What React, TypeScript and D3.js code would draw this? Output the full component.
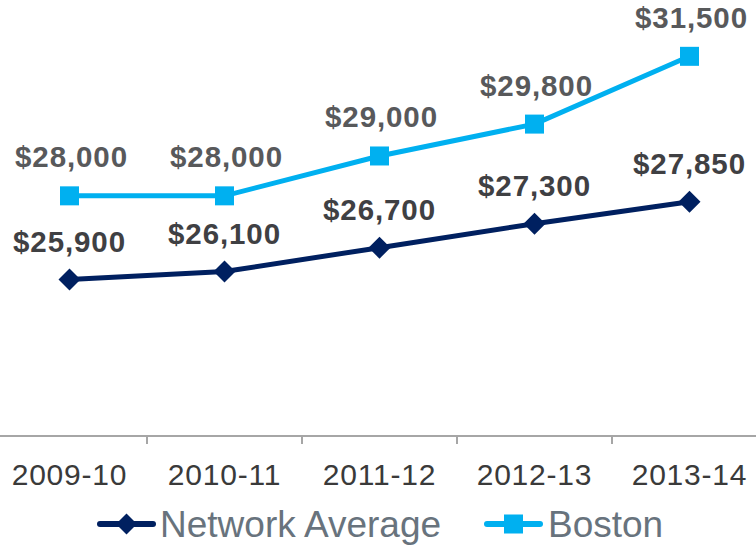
import React from 'react'
import { scaleBand, scaleLinear, line, format } from 'd3'

const categories = ['2009-10', '2010-11', '2011-12', '2012-13', '2013-14']
const networkAverage = [25900, 26100, 26700, 27300, 27850]
const boston = [28000, 28000, 29000, 29800, 31500]
const seriesNames = ['Network Average', 'Boston']

const W = 756
const H = 546
const NAVY = '#002060'
const CYAN = '#00B0F0'

export default function App() {
  const x = scaleBand<string>().domain(categories).range([-8, 767])
  const y = scaleLinear().domain([22000, 32000]).range([435, 36.4])
  const cx = (c: string) => (x(c) as number) + x.bandwidth() / 2
  const money = format('$,')

  const path = line<number>()
    .x((d, i) => cx(categories[i]))
    .y(d => y(d))

  const diamond = (px: number, py: number, r: number) =>
    `M${px},${py - r}L${px + r},${py}L${px},${py + r}L${px - r},${py}Z`

  const labelStyle = {
    fontFamily: '"Liberation Sans", Arial, sans-serif',
    fontSize: 29.5,
    fontWeight: 700,
    letterSpacing: 0.9,
  }

  return (
    <svg width={W} height={H} style={{ position: 'absolute', left: 0, top: 0, display: 'block' }}>
      <rect width={W} height={H} fill="#fff" />

      {/* x axis */}
      <line x1={0} x2={W} y1={436} y2={436} stroke="#A6A6A6" strokeWidth={2} />
      {categories.slice(1).map(c => (
        <line key={c} x1={x(c)} x2={x(c)} y1={436} y2={444} stroke="#A6A6A6" strokeWidth={2} />
      ))}
      {categories.map(c => (
        <text key={c} x={cx(c)} y={485} textAnchor="middle"
          style={{ fontFamily: '"Liberation Sans", Arial, sans-serif', fontSize: 30, letterSpacing: 0.8 }}
          fill="#3A3A3A">{c}</text>
      ))}

      {/* Boston */}
      <path d={path(boston) || ''} fill="none" stroke={CYAN} strokeWidth={5} />
      {boston.map((v, i) => (
        <rect key={i} x={cx(categories[i]) - 9.5} y={y(v) - 9.5} width={19} height={19} fill={CYAN} />
      ))}
      {boston.map((v, i) => (
        <text key={i} x={cx(categories[i]) + 2} y={y(v) - 28.5} textAnchor="middle" style={labelStyle} fill="#58595B">
          {money(v)}
        </text>
      ))}

      {/* Network average */}
      <path d={path(networkAverage) || ''} fill="none" stroke={NAVY} strokeWidth={5} />
      {networkAverage.map((v, i) => (
        <path key={i} d={diamond(cx(categories[i]), y(v), 11)} fill={NAVY} />
      ))}
      {networkAverage.map((v, i) => (
        <text key={i} x={cx(categories[i])} y={y(v) - 28} textAnchor="middle" style={labelStyle} fill="#3F4043">
          {money(v)}
        </text>
      ))}

      {/* legend */}
      <g transform="translate(98,524)">
        <line x1={2} x2={55} y1={0} y2={0} stroke={NAVY} strokeWidth={6} strokeLinecap="round" />
        <path d={diamond(28.5, 0, 10.5)} fill={NAVY} />
        <text x={62} y={12.7} style={{ fontFamily: '"Liberation Sans", Arial, sans-serif', fontSize: 37 }} fill="#68737D">
          {seriesNames[0]}
        </text>
      </g>
      <g transform="translate(485,524)">
        <line x1={2} x2={55} y1={0} y2={0} stroke={CYAN} strokeWidth={6} strokeLinecap="round" />
        <rect x={19} y={-9.5} width={19} height={19} fill={CYAN} />
        <text x={63} y={12.7} style={{ fontFamily: '"Liberation Sans", Arial, sans-serif', fontSize: 37 }} fill="#68737D">
          {seriesNames[1]}
        </text>
      </g>
    </svg>
  )
}
